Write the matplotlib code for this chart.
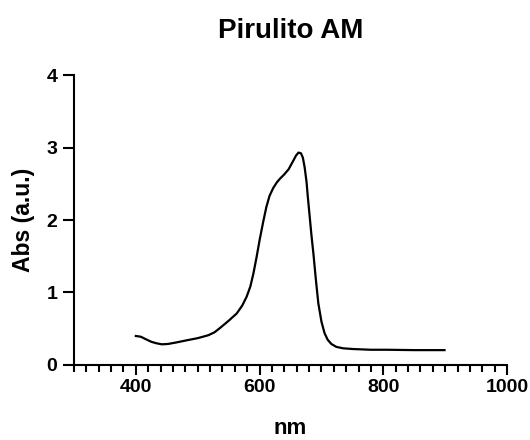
import matplotlib
matplotlib.use("Agg")
import matplotlib.pyplot as plt
from matplotlib.ticker import MultipleLocator, FixedLocator

wavelength = [400, 408, 415, 425, 433, 442, 452, 465, 482, 500, 517, 527, 536, 550, 563, 572,
              579, 585, 590, 595, 600, 606, 611, 616, 622, 628, 633, 640, 647, 654, 659, 663,
              667, 670, 673, 676, 678, 681, 684, 687, 691, 695, 700, 705, 710, 716, 724, 735,
              751, 780, 805, 850, 899]
absorbance = [0.40, 0.39, 0.36, 0.32, 0.30, 0.285, 0.29, 0.31, 0.34, 0.37, 0.41, 0.45, 0.51, 0.61, 0.71, 0.82,
              0.94, 1.08, 1.26, 1.48, 1.72, 1.98, 2.18, 2.33, 2.44, 2.52, 2.57, 2.63, 2.70, 2.81, 2.89, 2.93,
              2.92, 2.86, 2.72, 2.52, 2.32, 2.05, 1.78, 1.54, 1.18, 0.85, 0.60, 0.44, 0.35, 0.29, 0.25, 0.23,
              0.22, 0.21, 0.21, 0.205, 0.205]

x_major = [400, 600, 800, 1000]
y_major = [0, 1, 2, 3, 4]

plt.rcParams['font.family'] = ['Liberation Sans', 'DejaVu Sans']

fig = plt.figure(figsize=(5.3, 4.4), dpi=100)
ax = fig.add_axes([0.1396, 0.1705, 0.817, 0.659])

ax.plot(wavelength, absorbance, color='black', lw=1.6)

ax.set_xlim(300, 1000)
ax.set_ylim(0, 4)
ax.xaxis.set_major_locator(FixedLocator(x_major))
ax.xaxis.set_minor_locator(MultipleLocator(20))
ax.yaxis.set_major_locator(FixedLocator(y_major))

for s in ['top', 'right']:
    ax.spines[s].set_visible(False)
for s in ['left', 'bottom']:
    ax.spines[s].set_linewidth(1.5)

ax.tick_params(axis='x', which='major', length=7, width=1.5, labelsize=14, pad=3)
ax.tick_params(axis='x', which='minor', length=5, width=1.5)
ax.tick_params(axis='y', which='major', length=8, width=1.5, labelsize=14, pad=4)
for lab in ax.get_xticklabels() + ax.get_yticklabels():
    lab.set_fontweight('bold')

ax.set_xlabel('nm', fontsize=16, fontweight='bold', labelpad=16)
ax.set_ylabel('Abs (a.u.)', fontsize=16.5, fontweight='bold', labelpad=8)
ax.set_title('Pirulito AM', fontsize=20, fontweight='bold', pad=27)

fig.savefig('out.png', dpi=100)
